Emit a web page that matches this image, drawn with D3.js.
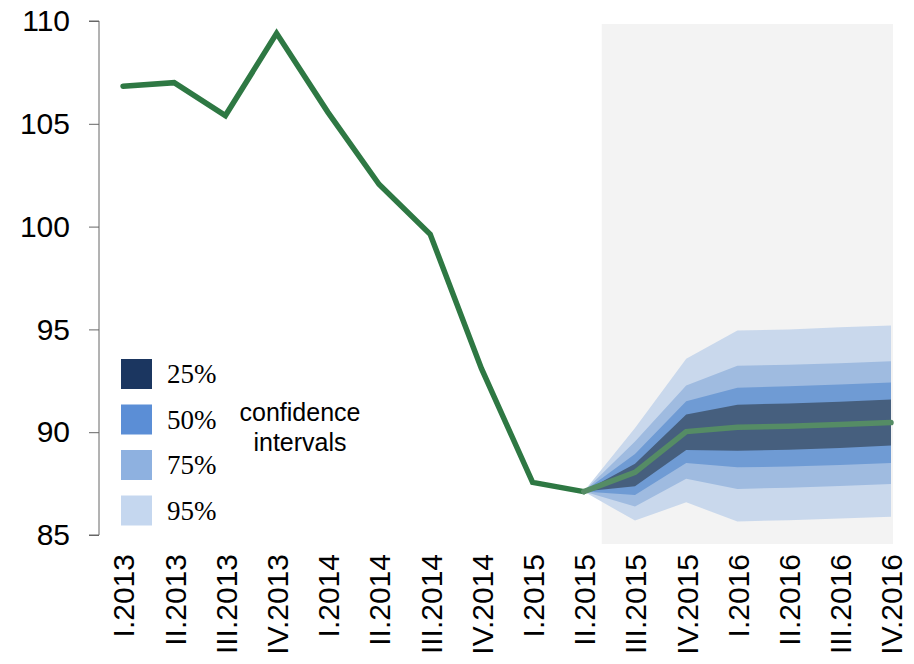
<!DOCTYPE html>
<html>
<head>
<meta charset="utf-8">
<script src="https://cdn.jsdelivr.net/npm/d3@7"></script>
<style>
  body { margin: 0; background: #fff; }
  svg { display: block; }
</style>
</head>
<body>
<svg id="chart"></svg>
<script>
const QUARTERS = ["I.2013","II.2013","III.2013","IV.2013","I.2014","II.2014","III.2014","IV.2014",
                  "I.2015","II.2015","III.2015","IV.2015","I.2016","II.2016","III.2016","IV.2016"];

// observed index, I.2013 .. II.2015
const ACTUAL = [106.83, 107.0, 105.4, 109.4, 105.57, 102.06, 99.63, 93.1, 87.56, 87.11];

// forecast, II.2015 .. IV.2016
const FC_QUARTERS = QUARTERS.slice(9);
const FC_MID  = [87.11, 88.05, 90.03, 90.24, 90.29, 90.37, 90.47];
const LO95 = [87.11, 85.70, 86.59, 85.66, 85.72, 85.80, 85.89];
const LO75 = [87.11, 86.39, 87.73, 87.24, 87.30, 87.38, 87.48];
const LO50 = [87.11, 86.95, 88.50, 88.29, 88.33, 88.40, 88.50];
const LO25 = [87.11, 87.37, 89.14, 89.10, 89.15, 89.23, 89.35];
const HI25 = [87.11, 88.46, 90.86, 91.34, 91.40, 91.48, 91.59];
const HI50 = [87.11, 88.94, 91.51, 92.16, 92.23, 92.32, 92.42];
const HI75 = [87.11, 89.55, 92.27, 93.23, 93.28, 93.35, 93.45];
const HI95 = [87.11, 90.20, 93.57, 94.95, 95.00, 95.10, 95.19];

const Y_TICKS = [85, 90, 95, 100, 105, 110];
const LEGEND_LABELS = ["25%", "50%", "75%", "95%"];

var width = 914, height = 664;
var margin = {top: 21, left: 99};

var svg = d3.select("#chart").attr("width", width).attr("height", height);
var g = svg.append("g").attr("transform", "translate(" + margin.left + "," + margin.top + ")");

var x = d3.scalePoint().domain(QUARTERS).range([24, 792]);
var y = d3.scaleLinear().domain([85, 110]).range([514, 0]);

/********* forecast shading ***********/
var step = x.step();
g.append("rect")
  .attr("x", x("II.2015") + step * 0.35)
  .attr("y", y(110) + 3)
  .attr("width", x("IV.2016") + 2 - (x("II.2015") + step * 0.35))
  .attr("height", y(85) + 9 - (y(110) + 3))
  .attr("fill", "#f3f3f3");

/********* actual line ***********/
var line = d3.line()
  .x(function(d) { return x(d.q); })
  .y(function(d) { return y(d.v); });

var actualData = ACTUAL.map(function(v, i) { return {q: QUARTERS[i], v: v}; });
g.append("path")
  .datum(actualData)
  .attr("d", line)
  .attr("fill", "none")
  .attr("stroke", "#2e7843")
  .attr("stroke-width", 5.5)
  .attr("stroke-linecap", "round")
  .attr("stroke-linejoin", "miter");

/********* fan bands ***********/
var bands = [
  {lo: LO95, hi: HI95, color: "#c9d8ec"},
  {lo: LO75, hi: HI75, color: "#9fbbe0"},
  {lo: LO50, hi: HI50, color: "#6f9bd4"},
  {lo: LO25, hi: HI25, color: "#465f7e"}
];
var area = d3.area()
  .x(function(d) { return x(d.q); })
  .y0(function(d) { return y(d.lo); })
  .y1(function(d) { return y(d.hi); });

bands.forEach(function(b) {
  var data = FC_QUARTERS.map(function(q, i) { return {q: q, lo: b.lo[i], hi: b.hi[i]}; });
  g.append("path").datum(data).attr("d", area).attr("fill", b.color);
});

var fcData = FC_QUARTERS.map(function(q, i) { return {q: q, v: FC_MID[i]}; });
g.append("path")
  .datum(fcData)
  .attr("d", line)
  .attr("fill", "none")
  .attr("stroke", "#558c65")
  .attr("stroke-width", 5.5)
  .attr("stroke-linecap", "round");

/********* axes ***********/
var yAxis = g.append("g")
  .call(d3.axisLeft(y).tickValues(Y_TICKS).tickSize(10).tickPadding(19));
yAxis.select(".domain").attr("stroke", "#666").attr("d", "M-10," + y(110) + "H0V" + y(85) + "H-10");
yAxis.selectAll(".tick line").attr("stroke", "#666");
yAxis.selectAll(".tick text")
  .attr("font-family", "'Liberation Sans', Arial, sans-serif")
  .attr("font-size", 30)
  .attr("fill", "#000");

var xAxis = g.append("g")
  .attr("transform", "translate(0," + y(85) + ")")
  .call(d3.axisBottom(x).tickSize(0).tickPadding(0));
xAxis.select(".domain").remove();
xAxis.selectAll(".tick text")
  .attr("transform", "rotate(-90)")
  .attr("text-anchor", "end")
  .attr("x", -19)
  .attr("y", 0)
  .attr("dy", "0.36em")
  .attr("dx", 0)
  .attr("font-family", "'Liberation Sans', Arial, sans-serif")
  .attr("font-size", 30)
  .attr("fill", "#000");

/********* legend ***********/
var legendColors = ["#1b3660", "#5b8ed6", "#8eb1e0", "#c5d7ef"];
var legend = svg.append("g").attr("transform", "translate(121,359)");
LEGEND_LABELS.forEach(function(lab, i) {
  legend.append("rect")
    .attr("x", 0).attr("y", i * 45.5)
    .attr("width", 31).attr("height", 30)
    .attr("fill", legendColors[i]);
  legend.append("text")
    .attr("x", 46).attr("y", i * 45.5 + 24)
    .attr("font-family", "'Liberation Serif', 'Times New Roman', serif")
    .attr("font-size", 27)
    .attr("fill", "#000")
    .text(lab);
});
svg.append("text")
  .attr("x", 300).attr("y", 421)
  .attr("text-anchor", "middle")
  .attr("font-family", "'Liberation Sans', Arial, sans-serif")
  .attr("font-size", 25)
  .text("confidence");
svg.append("text")
  .attr("x", 300).attr("y", 451)
  .attr("text-anchor", "middle")
  .attr("font-family", "'Liberation Sans', Arial, sans-serif")
  .attr("font-size", 25)
  .text("intervals");
</script>
</body>
</html>
